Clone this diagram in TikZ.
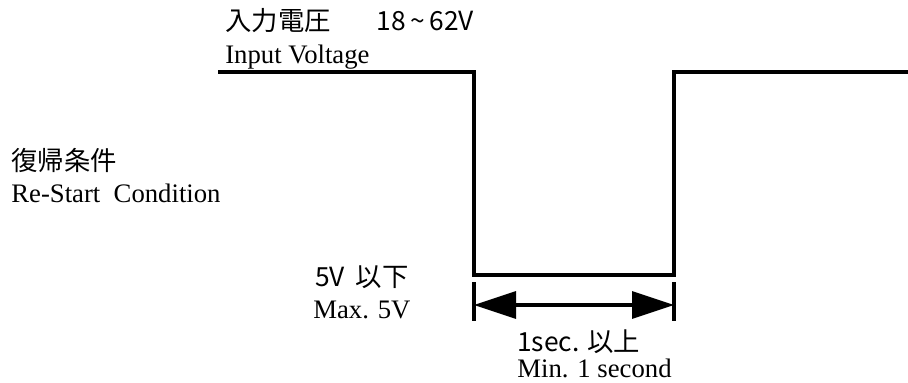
\documentclass[tikz,border=0pt]{standalone}
\usepackage{fontspec}
\setmainfont{Liberation Serif}
\newfontfamily\jpfont{Noto Sans CJK JP}
\usepackage{tikz}
\usetikzlibrary{arrows.meta,positioning}

\tikzset{
  jptext/.style={anchor=west, inner sep=0pt, font=\jpfont\fontsize{15}{17}\selectfont},
  entext/.style={anchor=west, inner sep=0pt, font=\fontsize{15.2}{17}\selectfont},
  wave/.style={line width=2.6pt, line join=miter},
  dimline/.style={line width=1.8pt}
}

\begin{document}
\begin{tikzpicture}[x=0.02cm, y=-0.02cm]
\useasboundingbox (0,0) rectangle (908,382);
% waveform corners
\coordinate (w0) at (218,72);
\coordinate (w1) at (474,72);
\coordinate (w2) at (474,275);
\coordinate (w3) at (674,275);
\coordinate (w4) at (674,72);
\coordinate (w5) at (908,72);
\draw[wave] (w0) -- (w1) -- (w2) -- (w3) -- (w4) -- (w5);
% dimension of the off time
\coordinate (d1) at (474,282);
\coordinate (d2) at (474,321);
\coordinate (d3) at (674,282);
\coordinate (d4) at (674,321);
\draw[dimline] (d1) -- (d2);
\draw[dimline] (d3) -- (d4);
\coordinate (a1) at (474,305);
\coordinate (a2) at (674,305);
\draw[dimline, {Triangle[length=0.84cm, width=0.54cm]}-{Triangle[length=0.84cm, width=0.54cm]}] (a1) -- (a2);
% labels
\node[jptext] (vin) at (225,21) {入力電圧\hspace{1.75em}18\,\textasciitilde\,62V};
\node[entext] (vinen) at (225,57) {Input Voltage};
\node[jptext] (rst) at (11,160) {復帰条件};
\node[entext] (rsten) at (11,193) {Re-Start\ \ Condition};
\node[jptext] (low) at (315,277) {5V\hspace{0.4em}以下};
\node[entext] (lowen) at (313,310) {Max. 5V};
\node[jptext] (tmin) at (517,342) {1sec. 以上};
\node[entext] (tminen) at (517,368) {Min. 1 second};
\end{tikzpicture}
\end{document}
